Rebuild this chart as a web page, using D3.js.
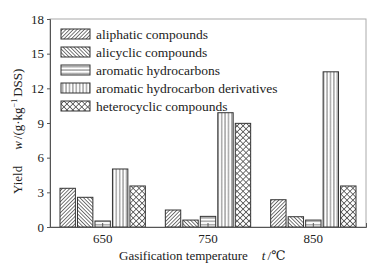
<!DOCTYPE html>
<html>
<head>
<meta charset="utf-8">
<script src="https://cdn.jsdelivr.net/npm/d3@7"></script>
<style>
  body { margin: 0; background: #fff; }
  svg text { font-family: "Liberation Serif", "DejaVu Serif", serif !important; fill: #222; }
</style>
</head>
<body>
<div id="chart"></div>
<script>
var temps = ["650", "750", "850"],
	series = ["aliphatic compounds", "alicyclic compounds", "aromatic hydrocarbons",
		"aromatic hydrocarbon derivatives", "heterocyclic compounds"],
	aliphatic = [3.35, 1.47, 2.36],
	alicyclic = [2.57, 0.6, 0.89],
	aromatic = [0.52, 0.92, 0.6],
	derivatives = [5.02, 9.89, 13.43],
	heterocyclic = [3.55, 8.97, 3.55],
	yTicks = [0, 3, 6, 9, 12, 15, 18];

var values = [aliphatic, alicyclic, aromatic, derivatives, heterocyclic];

var W = 392, H = 272,
	margin = {top: 19, right: 26, bottom: 45, left: 50},
	width = W - margin.left - margin.right,
	height = H - margin.top - margin.bottom;

var svg = d3.select("#chart").append("svg")
	.attr("width", W)
	.attr("height", H);

// hatch patterns
var defs = svg.append("defs");
function hatch(id, size, angle, cross) {
	var p = defs.append("pattern")
		.attr("id", id)
		.attr("patternUnits", "userSpaceOnUse")
		.attr("width", size)
		.attr("height", size)
		.attr("patternTransform", "rotate(" + angle + ")");
	p.append("rect").attr("width", size).attr("height", size).attr("fill", "#fff");
	p.append("line")
		.attr("x1", size / 2).attr("x2", size / 2)
		.attr("y1", 0).attr("y2", size)
		.attr("stroke", "#555").attr("stroke-width", 0.8);
	if (cross) {
		p.append("line")
			.attr("y1", size / 2).attr("y2", size / 2)
			.attr("x1", 0).attr("x2", size)
			.attr("stroke", "#555").attr("stroke-width", 0.8);
	}
}
hatch("p0", 2.6, 45, false);
hatch("p1", 2.6, -45, false);
hatch("p2", 3.4, 90, false);
hatch("p3", 3.4, 0, false);
hatch("p4", 4.2, 45, true);

var g = svg.append("g").attr("transform", "translate(" + margin.left + "," + margin.top + ")");

var x = d3.scaleBand().domain(temps).range([0, width]).padding(0),
	xs = d3.scaleBand().domain(d3.range(series.length))
		.range([10, x.bandwidth() - 10]).paddingInner(0.12),
	y = d3.scaleLinear().domain([0, 18]).range([height, 0]);

// frame
g.append("rect")
	.attr("width", width).attr("height", height)
	.attr("fill", "none").attr("stroke", "#aaa").attr("stroke-width", 1);

// bars
var rows = [];
temps.forEach(function(t, i) {
	series.forEach(function(s, j) {
		rows.push({t: t, j: j, v: values[j][i]});
	});
});

g.append("g").selectAll("rect")
	.data(rows).enter()
	.append("rect")
	.attr("x", function(d) { return x(d.t) + xs(d.j); })
	.attr("y", function(d) { return y(d.v); })
	.attr("width", xs.bandwidth())
	.attr("height", function(d) { return height - y(d.v); })
	.attr("fill", function(d) { return "url(#p" + d.j + ")"; })
	.attr("stroke", "#333")
	.attr("stroke-width", 1);

// axes
var yAxis = g.append("g")
	.call(d3.axisLeft(y).tickValues(yTicks).tickSize(3).tickPadding(3));
var xAxis = g.append("g")
	.attr("transform", "translate(0," + height + ")")
	.call(d3.axisBottom(x).tickSize(-4).tickPadding(7));

[yAxis, xAxis].forEach(function(a) {
	a.attr("font-family", null);
	a.select(".domain").attr("stroke", "#555");
	a.selectAll(".tick line").attr("stroke", "#555");
	a.selectAll("text").attr("font-size", "13px").attr("fill", "#222");
});

// legend
var legend = g.append("g").attr("transform", "translate(11,10)");
series.forEach(function(s, j) {
	var row = legend.append("g").attr("transform", "translate(0," + (j * 18) + ")");
	row.append("rect")
		.attr("width", 29).attr("height", 10)
		.attr("fill", "url(#p" + j + ")")
		.attr("stroke", "#333").attr("stroke-width", 1);
	row.append("text")
		.attr("x", 35).attr("y", 5)
		.attr("dy", "0.35em")
		.attr("font-size", "13.5px")
		.text(s);
});

// axis titles
var xt = svg.append("text")
	.attr("x", 119).attr("y", 260)
	.attr("font-size", "13px");
xt.append("tspan").text("Gasification temperature");
xt.append("tspan").attr("dx", 14).attr("font-style", "italic").text("t");
xt.append("tspan").attr("dx", 2).text("/℃");

var yt = svg.append("text")
	.attr("transform", "translate(22,194) rotate(-90)")
	.attr("font-size", "13px");
yt.append("tspan").text("Yield");
yt.append("tspan").attr("dx", 16).attr("font-style", "italic").text("w");
yt.append("tspan").attr("dx", 2).text("/(g·kg");
yt.append("tspan").attr("font-size", "8px").attr("dy", -5).text("−1");
yt.append("tspan").attr("dy", 5).attr("dx", 2).text("DSS)");
</script>
</body>
</html>
